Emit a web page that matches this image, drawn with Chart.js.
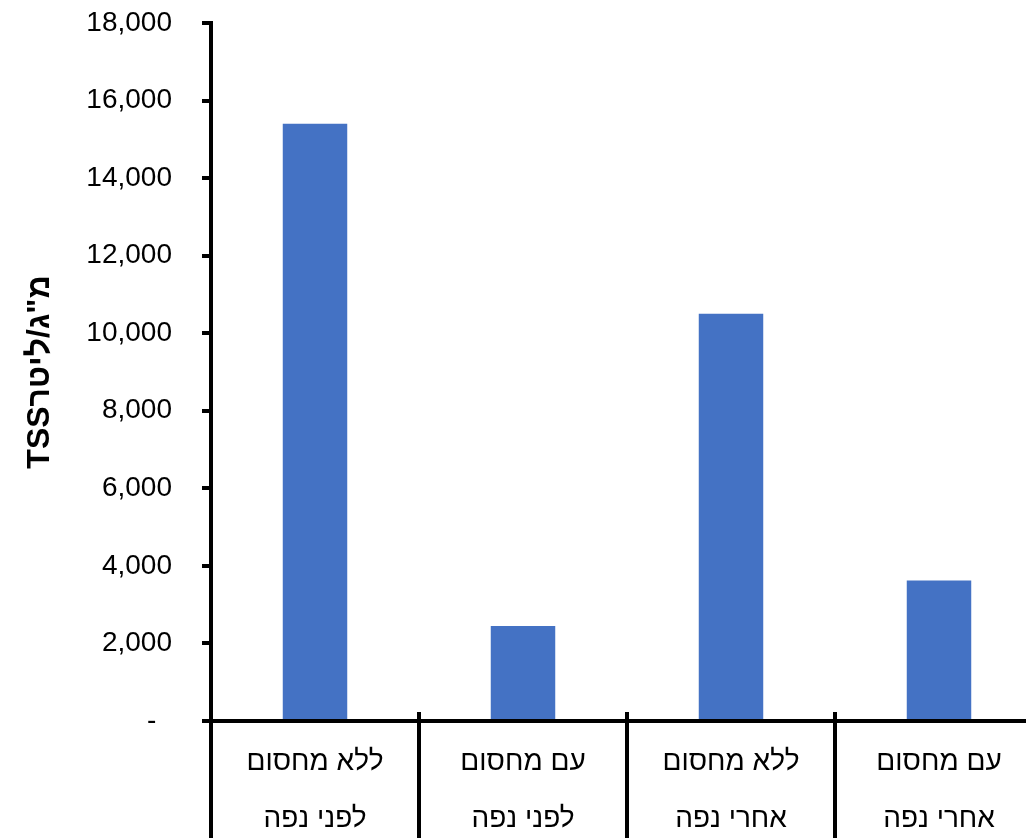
<!DOCTYPE html>
<html lang="he">
<head>
<meta charset="utf-8">
<title>TSS מ"ג/ליטר</title>
<script src="https://cdn.jsdelivr.net/npm/chart.js@4/dist/chart.umd.min.js"></script>
<style>
  html, body { margin: 0; padding: 0; background: #ffffff; overflow: hidden; }
  #wrap { position: relative; width: 1043px; height: 838px; }
</style>
</head>
<body>
<div id="wrap"><canvas id="chart"></canvas></div>
<script>
// Category labels (two lines each) and TSS values in mg/L
const categories = [
  ['ללא מחסום', 'לפני נפה'],
  ['עם מחסום', 'לפני נפה'],
  ['ללא מחסום', 'אחרי נפה'],
  ['עם מחסום', 'אחרי נפה']
];
const tssValues = [15400, 2450, 10500, 3620];
const yTicks = [0, 2000, 4000, 6000, 8000, 10000, 12000, 14000, 16000, 18000];
const yTitle = 'TSSמ"ג/ליטר';

const FONT = '"Liberation Sans", "DejaVu Sans", Arial, sans-serif';

// Short upward stubs of the category separators above the baseline
const separatorStubs = {
  id: 'separatorStubs',
  afterDraw(chart) {
    const x = chart.scales.x;
    const area = chart.chartArea;
    const n = categories.length;
    const step = n > 1 ? x.getPixelForValue(1) - x.getPixelForValue(0) : x.width;
    const ctx = chart.ctx;
    ctx.save();
    ctx.strokeStyle = '#000000';
    ctx.lineWidth = 4;
    for (let i = 0; i < n; i++) {
      const bx = x.getPixelForValue(i) + step / 2;
      ctx.beginPath();
      ctx.moveTo(bx, area.bottom - 9);
      ctx.lineTo(bx, area.bottom);
      ctx.stroke();
    }
    ctx.restore();
  }
};

new Chart(document.getElementById('chart'), {
  type: 'bar',
  data: {
    labels: categories,
    datasets: [{
      data: tssValues,
      backgroundColor: '#4472C4',
      borderWidth: 0,
      barPercentage: 0.31,
      categoryPercentage: 1.0
    }]
  },
  options: {
    responsive: true,
    maintainAspectRatio: false,
    animation: false,
    layout: { padding: { top: 23, right: 0, bottom: 0, left: 0 } },
    plugins: {
      legend: { display: false },
      tooltip: { enabled: false }
    },
    scales: {
      x: {
        offset: true,
        grid: {
          offset: true,
          drawOnChartArea: false,
          drawTicks: true,
          tickLength: 130,
          color: '#000000',
          lineWidth: 4
        },
        border: { display: true, color: '#000000', width: 4 },
        ticks: {
          color: '#000000',
          font: { family: FONT, size: 28, lineHeight: 2.04 },
          padding: -117,
          maxRotation: 0,
          autoSkip: false
        },
        afterFit(scale) { scale.height = 117; }
      },
      y: {
        min: 0,
        max: 18000,
        afterBuildTicks(scale) { scale.ticks = yTicks.map(v => ({ value: v })); },
        grid: {
          drawOnChartArea: false,
          drawTicks: true,
          tickLength: 9,
          color: '#000000',
          lineWidth: 4
        },
        border: { display: true, color: '#000000', width: 4 },
        ticks: {
          color: '#000000',
          font: { family: FONT, size: 28 },
          padding: 30,
          callback: v => (v === 0 ? '-  ' : Number(v).toLocaleString('en-US'))
        },
        title: {
          display: true,
          text: yTitle,
          color: '#000000',
          font: { family: FONT, size: 32, weight: 'bold' },
          padding: { top: 21, bottom: 0 }
        },
        afterFit(scale) {
          scale.width = 211;
          scale.paddingTop = 0;
          scale.paddingBottom = 0;
        }
      }
    }
  },
  plugins: [separatorStubs]
});
</script>
</body>
</html>
